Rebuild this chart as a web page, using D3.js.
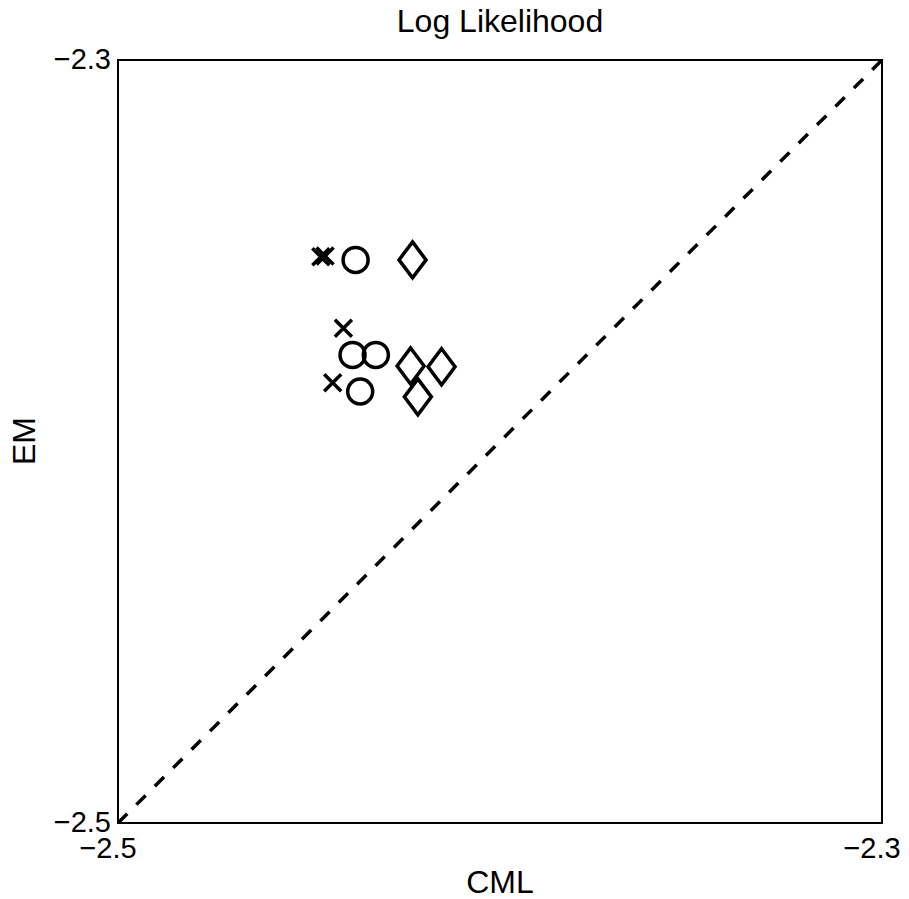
<!DOCTYPE html>
<html>
<head>
<meta charset="utf-8">
<script src="https://cdn.jsdelivr.net/npm/d3@7"></script>
<style>
  body { margin: 0; background: #fff; }
  text { font-family: "Liberation Sans", Arial, Helvetica, sans-serif; fill: #000; }
</style>
</head>
<body>
<div id="chart"></div>
<script>
// data (CML on x, EM on y)
const crossCML = [-2.4469, -2.4458, -2.4410, -2.4438];
const crossEM = [-2.3516, -2.3514, -2.3703, -2.3846];
const circleCML = [-2.4378, -2.4386, -2.4325, -2.4366];
const circleEM = [-2.3524, -2.3773, -2.3773, -2.3869];
const diamondCML = [-2.4229, -2.4234, -2.4153, -2.4215];
const diamondEM = [-2.3524, -2.3802, -2.3804, -2.3883];
const axisTicks = [-2.5, -2.3];

const width = 909, height = 899;
const margin = { top: 60, right: 27, bottom: 76, left: 118 };
const w = width - margin.left - margin.right;
const h = height - margin.top - margin.bottom;

const svg = d3.select("#chart").append("svg")
  .attr("width", width).attr("height", height);

const g = svg.append("g")
  .attr("transform", `translate(${margin.left},${margin.top})`);

const x = d3.scaleLinear().domain([-2.5, -2.3]).range([0, w]);
const y = d3.scaleLinear().domain([-2.5, -2.3]).range([h, 0]);

// box
g.append("rect")
  .attr("width", w).attr("height", h)
  .attr("fill", "none").attr("stroke", "#000").attr("stroke-width", 2);

// diagonal y = x
g.append("line")
  .attr("x1", x(-2.5)).attr("y1", y(-2.5))
  .attr("x2", x(-2.3)).attr("y2", y(-2.3))
  .attr("stroke", "#000").attr("stroke-width", 3.5)
  .attr("stroke-dasharray", "13,13");

// tick labels
const fmt = d => d3.format(".1f")(d).replace("-", "\u2212");
g.selectAll(".xt").data(axisTicks).enter().append("text")
  .attr("x", d => x(d) - 10).attr("y", h + 35)
  .attr("text-anchor", "middle").attr("font-size", 29)
  .text(fmt);
g.selectAll(".yt").data(axisTicks).enter().append("text")
  .attr("x", -7).attr("y", d => y(d) + 9)
  .attr("text-anchor", "end").attr("font-size", 29)
  .text(fmt);

// titles
svg.append("text").attr("x", margin.left + w / 2).attr("y", 32)
  .attr("text-anchor", "middle").attr("font-size", 32).text("Log Likelihood");
svg.append("text").attr("x", margin.left + w / 2).attr("y", 893)
  .attr("text-anchor", "middle").attr("font-size", 32).text("CML");
svg.append("text")
  .attr("transform", `translate(35,441) rotate(-90)`)
  .attr("text-anchor", "middle").attr("font-size", 32).text("EM");

const markStyle = sel => sel.attr("fill", "none").attr("stroke", "#000")
  .attr("stroke-width", 3.5);

// crosses
g.selectAll(".cross").data(crossCML).enter().append("path")
  .attr("d", (d, i) => {
    const cx = x(d), cy = y(crossEM[i]), s = 8.5;
    return `M${cx - s},${cy - s}L${cx + s},${cy + s}M${cx - s},${cy + s}L${cx + s},${cy - s}`;
  })
  .call(markStyle);

// circles
g.selectAll(".circ").data(circleCML).enter().append("circle")
  .attr("cx", d => x(d)).attr("cy", (d, i) => y(circleEM[i]))
  .attr("r", 12.5)
  .call(markStyle);

// diamonds
g.selectAll(".diam").data(diamondCML).enter().append("path")
  .attr("d", (d, i) => {
    const cx = x(d), cy = y(diamondEM[i]), a = 13.5, b = 18;
    return `M${cx},${cy - b}L${cx + a},${cy}L${cx},${cy + b}L${cx - a},${cy}Z`;
  })
  .call(markStyle);
</script>
</body>
</html>
